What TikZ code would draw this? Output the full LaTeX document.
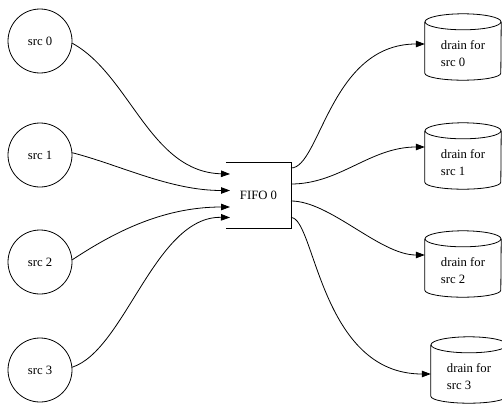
\documentclass[tikz,border=0pt]{standalone}
\usepackage{fontspec}
\setmainfont{Liberation Serif}
\usetikzlibrary{arrows.meta}
\newcommand\drumshape[1]{%
  \draw[line width=0.8pt] ([yshift=-8pt]#1.north west) -- ([yshift=7pt]#1.south west)
    arc[start angle=180,end angle=360,x radius=38pt,y radius=7pt]
    -- ([yshift=-8pt]#1.north east);
  \draw[line width=0.8pt] ([yshift=-8pt]#1.north) ellipse[x radius=38pt,y radius=8pt];}
\newcommand\drumtext[1]{\raisebox{-10.5pt}[0pt][0pt]{\begin{tabular}{@{}l@{}}drain for\\#1\end{tabular}}}
\begin{document}
\begin{tikzpicture}[x=1pt,y=-1pt,
  every node/.style={font=\fontsize{12.7}{17}\selectfont},
  srcnode/.style={circle,draw,line width=0.8pt,minimum size=64pt,inner sep=0pt},
  fifonode/.style={rectangle,draw=none,minimum width=65pt,minimum height=65pt,inner sep=0pt},
  drainnode/.style={rectangle,draw=none,minimum width=76pt,minimum height=66pt,inner sep=0pt},
  edge/.style={draw,line width=0.8pt,-{Triangle[length=9pt,width=6.5pt]}}]
\useasboundingbox (0,0) rectangle (502,404);
\clip (0,0) rectangle (502,404);
% sources
\node[srcnode] (src0) at (40,41) {src 0};
\node[srcnode] (src1) at (40,155) {src 1};
\node[srcnode] (src2) at (40,262) {src 2};
\node[srcnode] (src3) at (40,370) {src 3};
% fifo
\node[fifonode] (fifo) at (258.5,195.5) {FIFO 0};
\draw[line width=0.8pt] (fifo.north west) -- (fifo.north east) -- (fifo.south east) -- (fifo.south west);
\coordinate (in0) at (230,174);
\coordinate (in1) at (230,190.5);
\coordinate (in2) at (230,207);
\coordinate (in3) at (230,217.5);
\coordinate (out0) at (291,168);
\coordinate (out1) at (291,184);
\coordinate (out2) at (291,201);
\coordinate (out3) at (291,217.5);
% drains
\node[drainnode] (drain0) at (463,47) {\drumtext{src 0}};
\node[drainnode] (drain1) at (463,156) {\drumtext{src 1}};
\node[drainnode] (drain2) at (463,264) {\drumtext{src 2}};
\node[drainnode] (drain3) at (469,370) {\drumtext{src 3}};
\drumshape{drain0}
\drumshape{drain1}
\drumshape{drain2}
\drumshape{drain3}
% incoming edges
\draw[edge] (src0.-4) .. controls (130,75) and (150,172) .. (in0);
\draw[edge] (src1.4) .. controls (120,165) and (170,190.5) .. (in1);
\draw[edge] (src2.4) .. controls (110,235) and (160,207) .. (in2);
\draw[edge] (src3.5) .. controls (125,350) and (155,216) .. (in3);
% outgoing edges
\draw[edge] (out0) .. controls (320,168) and (330,44) .. ([yshift=3pt]drain0.west);
\draw[edge] (out1) .. controls (340,184) and (370,147) .. ([yshift=9pt]drain1.west);
\draw[edge] (out2) .. controls (330,201) and (380,255) .. ([yshift=9pt]drain2.west);
\draw[edge] (out3) .. controls (315,217.5) and (320,374) .. ([yshift=-4pt]drain3.west);
\end{tikzpicture}
\end{document}
